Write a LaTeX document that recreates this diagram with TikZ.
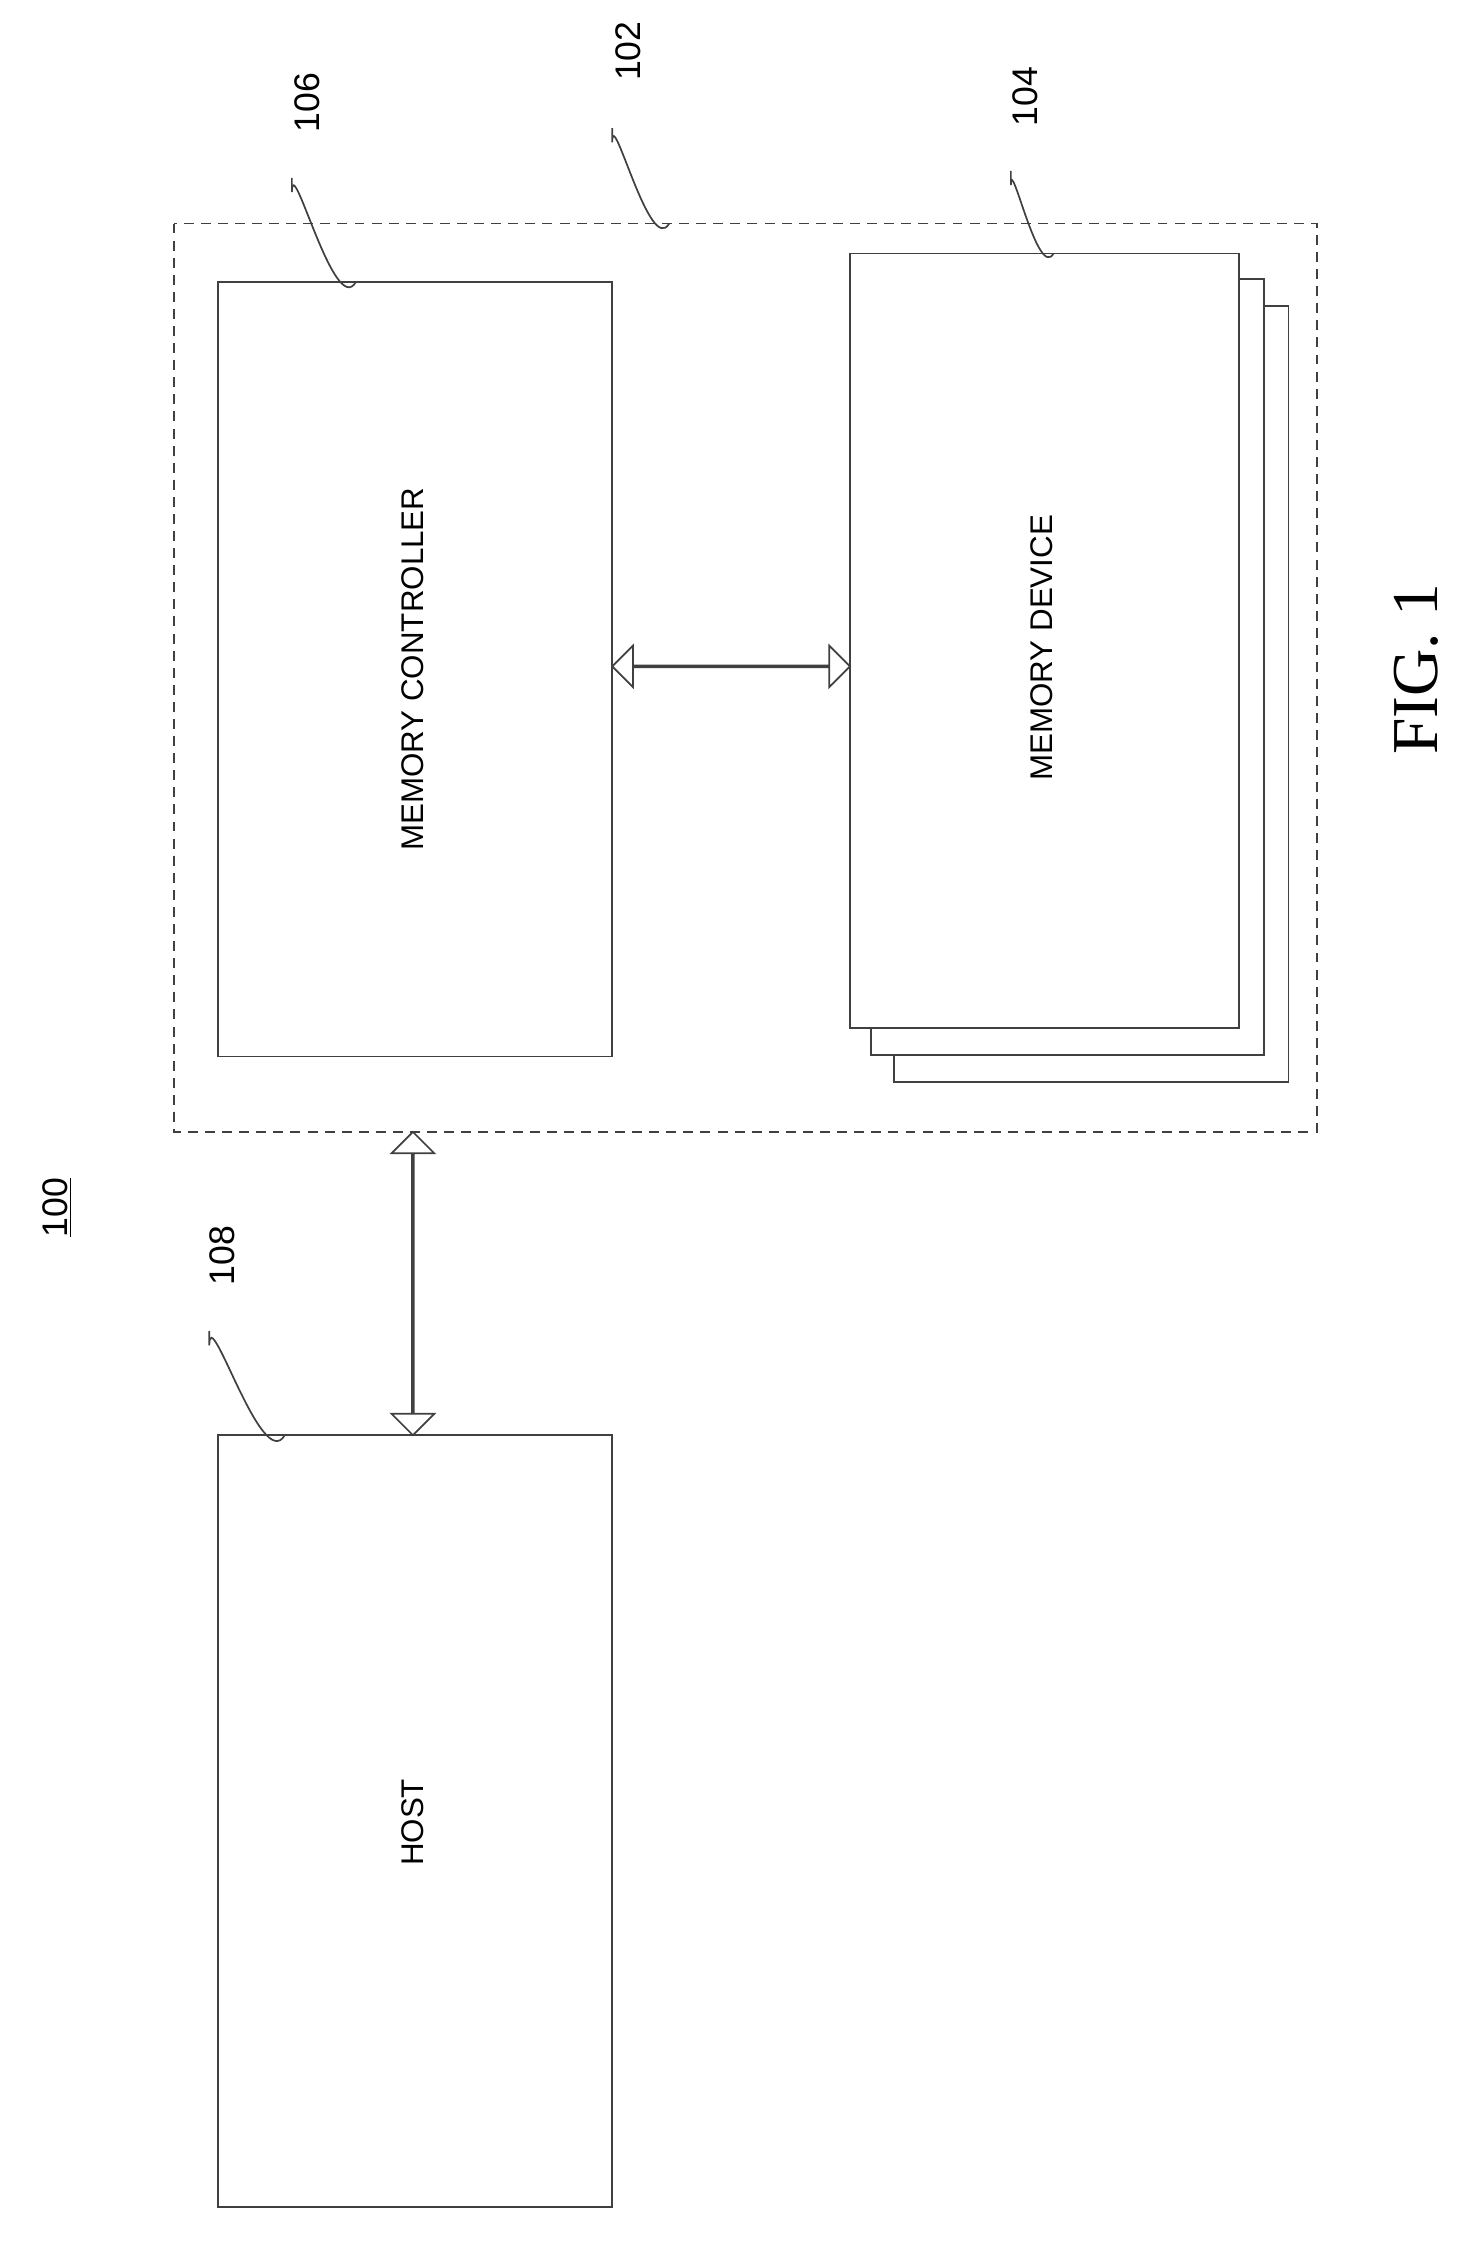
\documentclass[tikz,border=0pt]{standalone}
\usepackage{fontspec}
\setsansfont{Liberation Sans}
\setmainfont{Liberation Serif}
\usetikzlibrary{shapes.arrows}
\tikzset{
  blk/.style={draw=black!75, line width=1.2pt, fill=white},
  lead/.style={draw=black!75, line width=1.2pt},
  txt/.style={font=\sffamily\fontsize{22}{22}\selectfont, rotate=90},
  refno/.style={font=\sffamily\fontsize{25}{25}\selectfont, rotate=90},
  bus/.style={double arrow, draw=black!75, line width=1.2pt, fill=white,
    minimum width=28pt, double arrow head extend=14pt, inner sep=0pt}
}
\begin{document}
\begin{tikzpicture}[x=1pt,y=-1pt]
  \useasboundingbox (0,0) rectangle (1024,1574);

  % memory system
  \draw[lead, dash pattern=on 7pt off 5pt] (122,157) rectangle (925,795);
  \coordinate (sysC) at (470,157);

  % controller
  \draw[blk] (153,198) rectangle (430,742);
  \node[txt] (ctrl) at (290,470) {MEMORY CONTROLLER};
  \coordinate (ctrlC) at (250,198);

  % stacked memory devices
  \draw[blk] (628,215) rectangle (905,760);
  \draw[blk] (612,196) rectangle (888,741);
  \draw[blk] (597,178) rectangle (870,722);
  \node[txt] (dev) at (732,455) {MEMORY DEVICE};
  \coordinate (devC) at (740,178);

  % host
  \draw[blk] (153,1008) rectangle (430,1550);
  \node[txt] (host) at (290,1280) {HOST};
  \coordinate (hostC) at (200,1008);

  % buses
  \node[bus, minimum height=167pt] (bus1) at (513.5,468) {};
  \node[bus, minimum height=213pt, minimum width=30pt, rotate=90] (bus2) at (290,901.5) {};

  % reference numerals
  \node[refno] (n106) at (216,72) {106};
  \node[refno] (n102) at (441,36) {102};
  \node[refno] (n104) at (720,68) {104};
  \node[refno] (n108) at (156,882) {108};
  \node[refno] (n100) at (40,848) {\underline{100}};
  \node[font=\rmfamily\fontsize{46}{46}\selectfont, rotate=90] (fig) at (995,470) {FIG. 1};

  \draw[lead] (205,125) -- (205,135) to[out=90,in=-120] (ctrlC);
  \draw[lead] (430,90) -- (430,100) to[out=90,in=-120] (sysC);
  \draw[lead] (710,120) -- (710,130) to[out=90,in=-120] (devC);
  \draw[lead] (147,935) -- (147,945) to[out=90,in=-120] (hostC);
\end{tikzpicture}
\end{document}
